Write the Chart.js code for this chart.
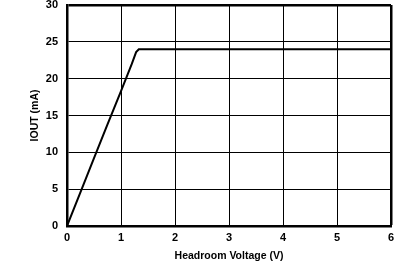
<!DOCTYPE html>
<html>
<head>
<meta charset="utf-8">
<script src="https://cdn.jsdelivr.net/npm/chart.js@4"></script>
<style>
  html, body { margin: 0; padding: 0; background: #fff; }
  #wrap { width: 407px; height: 267px; }
</style>
</head>
<body>
<div id="wrap"><canvas id="myChart" width="407" height="267"></canvas></div>
<script>
// headroom voltage (V) vs output current (mA)
const voltage = [0, 0.25, 0.5, 0.75, 1.0, 1.2, 1.28, 1.33, 1.5, 2, 2.5, 3, 4, 5, 6];
const iout = [0, 4.6, 9.2, 13.8, 18.3, 22.0, 23.6, 24.0, 24.0, 24.0, 24.0, 24.0, 24.0, 24.0, 24.0];

const xTicks = [0, 1, 2, 3, 4, 5, 6];
const yTicks = [0, 5, 10, 15, 20, 25, 30];

const xTitle = 'Headroom Voltage (V)';
const yTitle = 'IOUT (mA)';

Chart.defaults.font.family = '"Liberation Sans", Arial, sans-serif';
Chart.defaults.color = '#000';

const points = voltage.map((v, i) => ({ x: v, y: iout[i] }));

// frame lines on the far edges are thicker, like the border
const gridWidth = (max) => (ctx) => (ctx.tick && ctx.tick.value === max ? 2.5 : 1);

const ctx = document.getElementById('myChart').getContext('2d');
const myChart = new Chart(ctx, {
    type: 'scatter',
    data: {
        datasets: [{
            data: points,
            showLine: true,
            borderColor: '#000',
            borderWidth: 2,
            pointRadius: 0,
            tension: 0
        }]
    },
    options: {
        responsive: false,
        animation: false,
        devicePixelRatio: 1,
        layout: { padding: { top: 5, right: 16, left: 0, bottom: 0 } },
        plugins: { legend: { display: false }, tooltip: { enabled: false } },
        scales: {
            x: {
                type: 'linear',
                min: xTicks[0],
                max: xTicks[xTicks.length - 1],
                afterBuildTicks: (scale) => { scale.ticks = xTicks.map(v => ({ value: v })); },
                afterFit: (scale) => { scale.height = 41; scale.paddingLeft = 0; scale.paddingRight = 0; },
                ticks: { padding: 5, font: { size: 11, weight: 'bold' }, maxRotation: 0 },
                grid: { color: '#000', lineWidth: gridWidth(6), drawTicks: false },
                border: { color: '#000', width: 2.5 },
                title: { display: true, text: xTitle, font: { size: 10.5, weight: 'bold' }, padding: { top: 0, bottom: 5 } }
            },
            y: {
                type: 'linear',
                min: yTicks[0],
                max: yTicks[yTicks.length - 1],
                afterBuildTicks: (scale) => { scale.ticks = yTicks.map(v => ({ value: v })); },
                afterFit: (scale) => { scale.width = 67; scale.paddingTop = 0; scale.paddingBottom = 0; },
                ticks: { padding: 9, font: { size: 11, weight: 'bold' } },
                grid: { color: '#000', lineWidth: gridWidth(30), drawTicks: false },
                border: { color: '#000', width: 2.5 },
                title: { display: true, text: yTitle, font: { size: 10.5, weight: 'bold' }, padding: { top: 29, bottom: 0 } }
            }
        }
    }
});
</script>
</body>
</html>
